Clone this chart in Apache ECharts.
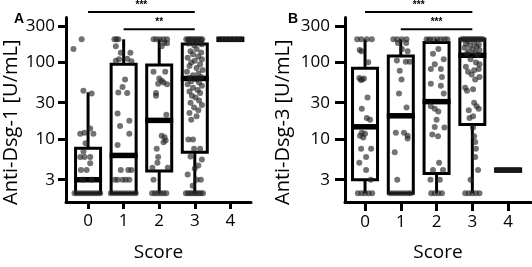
<!DOCTYPE html>
<html>
<head>
<meta charset="utf-8">
<script src="https://cdn.jsdelivr.net/npm/echarts@6/dist/echarts.min.js"></script>
<style>html,body{margin:0;padding:0;background:#fff}#c{width:532px;height:267px}</style>
</head>
<body>
<div id="c"></div>
<script>
// ---------- data ----------
const categories = ['0', '1', '2', '3', '4'];
const yTicks = [3, 10, 30, 100, 300];

// box statistics: [min, Q1, median, Q3, max]
const dsg1Stats = [
  [2, 2, 3, 7.7, 41],
  [2, 2, 6.2, 95, 200],
  [2, 3.9, 17.7, 93, 200],
  [2, 6.8, 62, 174, 200],
  [200, 200, 200, 200, 200]
];
const dsg3Stats = [
  [2, 3, 14.6, 84, 200],
  [2, 2, 20.3, 121, 200],
  [2, 3.6, 31, 182, 200],
  [2, 15.7, 124, 200, 200],
  [4, 4, 4, 4, 4]
];

// individual points: [jitter, value]
const dsg1Pts0 = [[-0.18,200],[-0.41,150],[-0.13,43],[0.10,39.5],[-0.22,11.9],[-0.10,12.2],[0.06,13.9],[0.15,11.9],[-0.07,8.9],[-0.13,7.0],[-0.22,5.9],[-0.10,5.9],[0.06,5.9],[0.06,4.9],[-0.20,4.0],[-0.04,4.0],[-0.15,3],[0.10,3],[-0.38,2],[-0.30,2],[-0.22,2],[-0.14,2],[-0.06,2],[0.02,2],[0.10,2],[0.18,2],[0.26,2],[0.34,2]];
const dsg1Pts1 = [[-0.26,200],[-0.20,200],[-0.15,200],[-0.22,162],[-0.08,134],[0.19,134],[-0.13,110],[0.10,112],[-0.22,105],[0.22,104],[0.04,60],[-0.03,48],[-0.15,40.6],[0.10,40],[-0.17,21.8],[0.16,17.5],[-0.10,15],[0.16,11.9],[-0.17,8.5],[-0.08,4],[0.13,4],[0.22,4],[-0.25,3],[-0.17,3],[-0.03,3],[0.06,3],[0.16,3],[-0.36,2],[-0.26,2],[-0.16,2],[-0.06,2],[0.04,2],[0.14,2],[0.24,2],[0.34,2]];
const dsg1Pts2 = [[-0.16,200],[-0.08,200],[0.02,200],[0.12,200],[0.22,200],[0.14,181],[0.22,178],[0.07,162],[-0.16,76],[0.17,76],[0,62],[0.07,58],[0.12,55],[-0.03,53],[0.22,52],[-0.09,40],[-0.09,37],[0.20,21],[0.07,11.2],[0.15,10.7],[0.18,9.7],[0.12,9.2],[-0.07,7.6],[-0.03,5.9],[-0.05,5.0],[-0.19,4.3],[0.24,4.3],[-0.16,3],[-0.20,2],[-0.12,2],[-0.04,2],[0.04,2],[0.12,2],[0.20,2]];
const dsg1Pts3 = [[-0.24,200],[-0.19,200],[-0.14,200],[-0.09,200],[-0.04,200],[0.01,200],[0.06,200],[0.11,200],[0.16,200],[0.21,200],[-0.16,195],[0.18,192],
  [-0.10,185],[0.15,178],[0.05,188],[-0.18,176],[0.20,172],[-0.02,168],
  [0.05,150],[-0.12,140],[0.18,135],[-0.05,128],[0.10,120],[-0.20,115],[0.20,110],[0.00,105],[-0.10,100],[0.15,95],[-0.15,90],[0.05,85],[0.22,80],[-0.22,76],[0.10,72],[-0.05,68],[0.18,65],[-0.15,63],
  [0.05,60],[-0.10,57],[0.12,55],[-0.20,52],[0.20,50],[-0.05,47],[0.08,44],[-0.15,42],[0.15,40],[-0.08,37],[0.02,35],[0.12,32],[-0.12,30],[0.20,28],[-0.02,26],[0.10,24],[-0.15,22],[0.05,20],[-0.10,18],
  [-0.18,10],[-0.05,10],[0.15,7.6],[-0.02,7.6],[-0.12,6],[0.20,5.5],[0.10,4.6],[0.00,4.2],[-0.20,3.5],[0.17,3],[0.05,3],[-0.06,2.5],
  [-0.25,2],[-0.19,2],[-0.13,2],[-0.07,2],[-0.01,2],[0.05,2],[0.11,2],[0.17,2],[0.23,2]];
const dsg1Pts4 = [[-0.28,200],[-0.17,200],[-0.06,200],[0.06,200],[0.17,200],[0.28,200]];

const dsg3Pts0 = [[-0.22,200],[-0.10,200],[0.05,200],[0.19,200],[-0.15,145],[-0.10,140],[0.09,101],[-0.16,63],[-0.08,60],[-0.03,62],[-0.12,59],[0.07,35],[-0.09,25],[0.05,19],[0.14,18],[-0.09,12.2],[-0.14,11.2],[-0.05,10.6],[0.00,11.9],[-0.11,7.6],[0.17,7.6],[0.03,5.9],[-0.16,5.0],[0.03,4.0],[0.16,3],[-0.20,2],[-0.10,2],[0,2],[0.10,2],[0.20,2]];
const dsg3Pts1 = [[-0.21,200],[-0.10,200],[0.03,200],[0.16,200],[-0.08,179],[0.15,179],[0.03,150],[0.19,140],[-0.11,106],[0.14,102],[0.25,102],[-0.03,78],[0.02,60],[-0.05,39.5],[0.16,26],[-0.14,12.2],[0.09,12.2],[0.19,11.2],[0.19,10.3],[-0.17,6.8],[-0.10,3],[-0.30,2],[-0.20,2],[-0.10,2],[0,2],[0.10,2],[0.20,2],[0.28,2]];
const dsg3Pts2 = [[-0.28,200],[-0.18,200],[-0.08,200],[0.02,200],[0.12,200],[0.22,200],[0.30,200],[-0.22,195],[0.05,150],[-0.10,130],[0.20,110],[-0.05,95],[-0.16,82],[0.12,82],[0.15,65],[-0.16,53],[0.12,50],[0.20,39.5],[-0.16,27],[-0.05,25],[0.05,23],[0,18],[0.22,14.3],[-0.05,14.5],[-0.12,11.6],[0.04,11],[0.07,5.0],[-0.10,4.0],[0.18,4.0],[-0.17,3],[0.09,3],[-0.15,2],[-0.05,2],[0.05,2],[0.15,2]];
const dsg3Pts3 = [[-0.30,200],[-0.25,200],[-0.20,200],[-0.15,200],[-0.10,200],[-0.05,200],[0,200],[0.05,200],[0.10,200],[0.15,200],[0.20,200],[0.25,200],[0.30,200],[-0.12,190],
  [0.05,180],[-0.18,175],[0.18,170],[-0.06,165],[0.12,160],[-0.22,155],[0.02,150],[0.20,145],[-0.10,140],[0.08,135],[-0.15,130],[0.15,126],
  [-0.05,110],[0.10,100],[0.20,95],[-0.18,88],[0.18,82],[0.05,79],[-0.12,76],[-0.02,70],[0.20,65],[0.08,60],[-0.20,47],[0.02,45],[-0.15,43],[0.05,30],[0.12,27],[0.18,25],[-0.10,24],[0.02,20],[-0.08,19],
  [0.02,14.3],[0.05,11],[0.08,9.3],[0.10,7.6],[0.08,5.9],[0.16,4.0],[-0.05,3],[-0.20,2],[-0.10,2],[0,2],[0.10,2],[0.20,2]];
const dsg3Pts4 = [[-0.28,4],[-0.17,4],[-0.06,4],[0.06,4],[0.17,4],[0.28,4]];

// significance brackets: [fromCategory, toCategory, level]
const dsg1Sig = [[0, 3, 452], [1, 3, 270]];
const dsg1Stars = ['***', '**'];
const dsg3Sig = [[0, 3, 452], [1, 3, 270]];
const dsg3Stars = ['***', '***'];

// ---------- build ----------
const FONT = 'Open Sans';
const BOX_HALF = 12.5;

function boxData(stats) { return stats.map((s, i) => [i].concat(s)); }
function ptsData(lists) {
  const out = [];
  lists.forEach((l, i) => l.forEach(p => out.push([i + p[0], p[1]])));
  return out;
}
function renderBox(params, api) {
  const x = api.value(0);
  const c = v => api.coord([x, v]);
  const pLo = c(api.value(1)), pQ1 = c(api.value(2)), pMed = c(api.value(3)), pQ3 = c(api.value(4)), pHi = c(api.value(5));
  const cx = pMed[0];
  const st = { stroke: '#000', lineWidth: 3, fill: null };
  return { type: 'group', children: [
    { type: 'line', shape: { x1: cx, y1: pLo[1], x2: cx, y2: pQ1[1] }, style: st },
    { type: 'line', shape: { x1: cx, y1: pQ3[1], x2: cx, y2: pHi[1] }, style: st },
    { type: 'rect', shape: { x: cx - BOX_HALF, y: pQ3[1], width: 2 * BOX_HALF, height: pQ1[1] - pQ3[1] }, style: { stroke: '#000', lineWidth: 3, fill: '#fff' } },
    { type: 'line', shape: { x1: cx - BOX_HALF - 1.5, y1: pMed[1], x2: cx + BOX_HALF + 1.5, y2: pMed[1] }, style: { stroke: '#000', lineWidth: 5.5 } }
  ]};
}
function makeSigRender(stars) {
  return function (params, api) {
    const a = api.coord([api.value(0), api.value(2)]);
    const b = api.coord([api.value(1), api.value(2)]);
    return { type: 'group', children: [
      { type: 'line', shape: { x1: a[0], y1: a[1], x2: b[0], y2: b[1] }, style: { stroke: '#000', lineWidth: 2 } },
      { type: 'text', style: { text: stars[params.dataIndex], x: (a[0] + b[0]) / 2, y: a[1] - 2, align: 'center', verticalAlign: 'bottom', fontSize: 10, fontWeight: 'bold', fontFamily: 'Liberation Sans', fill: '#000' } }
    ]};
  };
}

function xAxisCfg(gi, min, max, tickLen, margin) {
  return {
    type: 'value', gridIndex: gi, min: min, max: max,
    axisLine: { onZero: false, lineStyle: { color: '#000', width: 3 } },
    axisTick: { customValues: [0, 1, 2, 3, 4], length: tickLen, lineStyle: { color: '#000', width: 3 } },
    axisLabel: { customValues: [0, 1, 2, 3, 4], formatter: v => categories[Math.round(v)], margin: margin, color: '#000', fontSize: 17, fontFamily: FONT },
    splitLine: { show: false },
    name: 'Score', nameLocation: 'middle', nameGap: 41,
    nameTextStyle: { color: '#000', fontSize: 19, fontFamily: FONT }
  };
}
function yAxisCfg(gi, name, tickLen, margin, nameGap) {
  return {
    type: 'log', logBase: 10, gridIndex: gi, min: 1.54, max: 384,
    axisLine: { onZero: false, lineStyle: { color: '#000', width: 3 } },
    axisTick: { customValues: yTicks, length: tickLen, lineStyle: { color: '#000', width: 3 } },
    axisLabel: { customValues: yTicks, formatter: v => String(Math.round(v)), margin: margin, color: '#000', fontSize: 17, fontFamily: FONT },
    splitLine: { show: false }, minorTick: { show: false },
    name: name, nameLocation: 'middle', nameGap: nameGap,
    nameTextStyle: { color: '#000', fontSize: 20, fontFamily: FONT, padding: [0, 25, 0, 0] }
  };
}

const ptStyle = { color: 'rgba(35,35,35,0.8)' };
const option = {
  animation: false,
  backgroundColor: '#fff',
  title: [
    { text: 'A', left: 9, top: 7, textStyle: { fontSize: 14, fontWeight: 'bold', fontFamily: 'Liberation Sans', color: '#000' } },
    { text: 'B', left: 283, top: 7, textStyle: { fontSize: 14, fontWeight: 'bold', fontFamily: 'Liberation Sans', color: '#000' } }
  ],
  grid: [
    { left: 66, top: 17.5, width: 185, height: 188.2 },
    { left: 345, top: 17.5, width: 186, height: 188.5 }
  ],
  xAxis: [xAxisCfg(0, -0.62, 4.58, 7, 11), xAxisCfg(1, -0.56, 4.64, 9, 12)],
  yAxis: [yAxisCfg(0, 'Anti-Dsg-1 [U/mL]', 8, 11, 45), yAxisCfg(1, 'Anti-Dsg-3 [U/mL]', 10, 15, 52)],
  series: [
    { type: 'custom', xAxisIndex: 0, yAxisIndex: 0, z: 2, renderItem: renderBox, encode: { x: 0, y: [1, 2, 3, 4, 5] }, data: boxData(dsg1Stats) },
    { type: 'scatter', xAxisIndex: 0, yAxisIndex: 0, z: 3, symbolSize: 6, itemStyle: ptStyle, data: ptsData([dsg1Pts0, dsg1Pts1, dsg1Pts2, dsg1Pts3, dsg1Pts4]) },
    { type: 'custom', xAxisIndex: 0, yAxisIndex: 0, z: 4, clip: false, renderItem: makeSigRender(dsg1Stars), encode: { x: [0, 1], y: 2 }, data: dsg1Sig },
    { type: 'custom', xAxisIndex: 1, yAxisIndex: 1, z: 2, renderItem: renderBox, encode: { x: 0, y: [1, 2, 3, 4, 5] }, data: boxData(dsg3Stats) },
    { type: 'scatter', xAxisIndex: 1, yAxisIndex: 1, z: 3, symbolSize: 6, itemStyle: ptStyle, data: ptsData([dsg3Pts0, dsg3Pts1, dsg3Pts2, dsg3Pts3, dsg3Pts4]) },
    { type: 'custom', xAxisIndex: 1, yAxisIndex: 1, z: 4, clip: false, renderItem: makeSigRender(dsg3Stars), encode: { x: [0, 1], y: 2 }, data: dsg3Sig }
  ]
};
const chart = echarts.init(document.getElementById('c'), null, { renderer: 'canvas' });
chart.setOption(option);
</script>
</body>
</html>
